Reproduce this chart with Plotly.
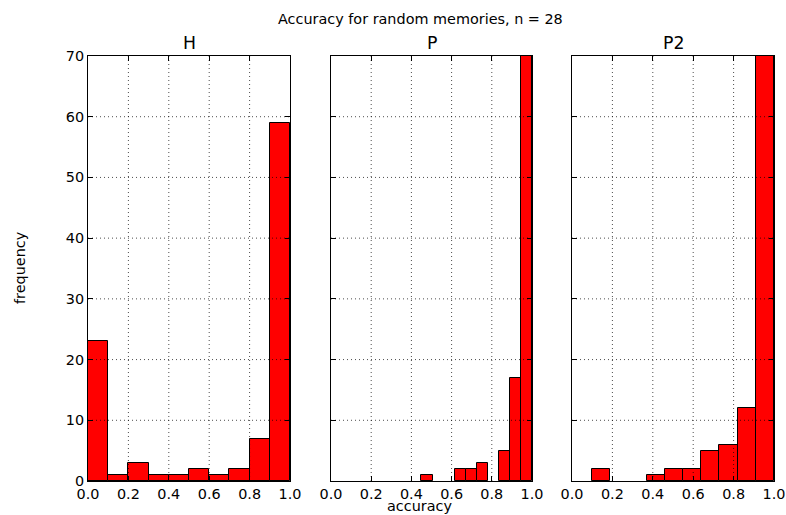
import numpy as np
import plotly.graph_objects as go

# Histogram counts per method (10 equal-width bins each)
panel_names = ["H", "P", "P2"]
h_counts = [23, 1, 3, 1, 1, 2, 1, 2, 7, 59]
p_counts = [1, 0, 0, 2, 2, 3, 0, 5, 17, 70]
p2_counts = [2, 0, 0, 1, 2, 2, 5, 6, 12, 70]
# Range of the data spanned by the bins for each method
h_range = [0.0, 1.0]
p_range = [0.45, 1.0]
p2_range = [0.1, 1.0]

x_ticks = [0.0, 0.2, 0.4, 0.6, 0.8, 1.0]
y_ticks = [0, 10, 20, 30, 40, 50, 60, 70]

W, H = 786, 515
FONT = "DejaVu Sans"

# pixel extents of each axes box
x_boxes = [(88, 290), (331, 532), (572, 774)]
y_box = (56, 481)

fig = go.Figure()
counts_all = [h_counts, p_counts, p2_counts]
ranges_all = [h_range, p_range, p2_range]

for i, (counts, rng) in enumerate(zip(counts_all, ranges_all)):
    edges = np.linspace(rng[0], rng[1], len(counts) + 1)
    widths = np.diff(edges)
    suffix = "" if i == 0 else str(i + 1)
    fig.add_trace(go.Bar(
        x=edges[:-1], y=counts, width=widths, offset=0,
        marker=dict(color="#ff0000",
                    line=dict(color="black",
                              width=[1 if c > 0 else 0 for c in counts])),
        xaxis="x" + suffix, yaxis="y" + suffix, showlegend=False,
        hoverinfo="x+y",
    ))

    xd = [x_boxes[i][0] / W, x_boxes[i][1] / W]
    yd = [1 - y_box[1] / H, 1 - y_box[0] / H]
    common = dict(
        showline=True, linecolor="black", linewidth=1, mirror="allticks",
        ticks="inside", ticklen=5, tickcolor="black", tickwidth=1,
        showgrid=False, zeroline=False, automargin=False,
        tickfont=dict(family=FONT, size=14.4, color="black"),
    )
    fig.update_layout(**{
        "xaxis" + suffix: dict(
            domain=xd, range=[0, 1], tickvals=x_ticks,
            ticktext=[f"{v:.1f}" for v in x_ticks],
            anchor="y" + suffix, **common),
        "yaxis" + suffix: dict(
            domain=yd, range=[0, 70], tickvals=y_ticks,
            showticklabels=(i == 0), anchor="x" + suffix, **common),
    })

    # dotted grid drawn over the bars
    for gx in x_ticks[1:-1]:
        fig.add_shape(type="line", xref="x" + suffix, yref="y" + suffix,
                      x0=gx, x1=gx, y0=0, y1=70, layer="above",
                      line=dict(color="rgba(0,0,0,0.7)", width=1, dash="1px,3px"))
    for gy in y_ticks[1:-1]:
        fig.add_shape(type="line", xref="x" + suffix, yref="y" + suffix,
                      x0=0, x1=1, y0=gy, y1=gy, layer="above",
                      line=dict(color="rgba(0,0,0,0.7)", width=1, dash="1px,3px"))

    # panel title
    fig.add_annotation(
        text=panel_names[i], xref="paper", yref="paper",
        x=(x_boxes[i][0] + x_boxes[i][1]) / 2 / W, y=1 - 43 / H,
        showarrow=False, xanchor="center", yanchor="middle",
        font=dict(family=FONT, size=17.3, color="black"))

fig.add_annotation(
    text="Accuracy for random memories, n = 28", xref="paper", yref="paper",
    x=420 / W, y=1 - 19 / H, showarrow=False, xanchor="center", yanchor="middle",
    font=dict(family=FONT, size=14.4, color="black"))
fig.add_annotation(
    text="accuracy", xref="paper", yref="paper",
    x=419 / W, y=1 - 506 / H, showarrow=False, xanchor="center", yanchor="middle",
    font=dict(family=FONT, size=14.4, color="black"))
fig.add_annotation(
    text="frequency", xref="paper", yref="paper", textangle=-90,
    x=20 / W, y=1 - 268 / H, showarrow=False, xanchor="center", yanchor="middle",
    font=dict(family=FONT, size=14.4, color="black"))

fig.update_layout(
    width=W, height=H, margin=dict(l=0, r=0, t=0, b=0, autoexpand=False),
    paper_bgcolor="white", plot_bgcolor="white", bargap=0,
    font=dict(family=FONT, color="black"),
)

fig.write_html("out.html")
